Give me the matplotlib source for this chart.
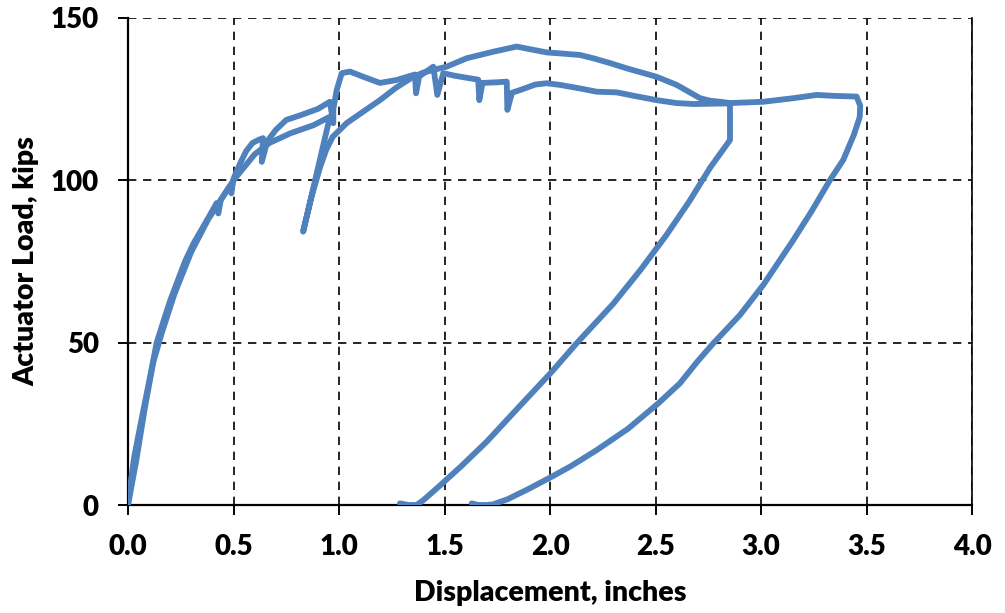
import matplotlib
matplotlib.use("Agg")
import matplotlib.pyplot as plt

# Specimen / run A (upper plateau with load drops, unloads from ~2.85 in)
disp_a = [0.0, 0.015, 0.03, 0.06, 0.10, 0.136, 0.17, 0.20, 0.235, 0.27, 0.31, 0.35, 0.39,
          0.42, 0.428, 0.44, 0.48, 0.49, 0.50, 0.53, 0.56, 0.59, 0.62, 0.64, 0.634, 0.66,
          0.70, 0.75, 0.815, 0.90, 0.957,
          0.973, 0.973, 0.989, 1.013, 1.052, 1.115, 1.194, 1.273, 1.36, 1.365, 1.38,
          1.447, 1.466, 1.494, 1.55, 1.66, 1.665, 1.68, 1.75, 1.795, 1.798, 1.82, 1.858,
          1.93, 1.984, 2.047, 2.142, 2.221, 2.316, 2.40, 2.505, 2.60, 2.68, 2.76, 2.853,
          2.853, 2.76, 2.66, 2.55, 2.43, 2.30, 2.126, 2.008, 1.85, 1.70, 1.58, 1.47,
          1.40, 1.368, 1.33, 1.289]
load_a = [0.0, 8.0, 15.0, 25.0, 38.0, 50.0, 57.0, 63.0, 69.0, 75.0, 80.5, 85.0, 89.5,
          93.0, 89.8, 94.0, 98.0, 96.0, 100.5, 105.0, 109.0, 111.5, 112.5, 113.0, 105.7, 112.0,
          115.5, 118.6, 120.0, 122.0, 124.2,
          117.6, 122.0, 127.8, 133.0, 133.5, 131.9, 130.0, 130.9, 132.6, 126.8, 132.0,
          135.0, 126.3, 133.0, 132.2, 131.0, 124.7, 130.0, 130.2, 130.4, 121.7, 127.0, 127.8,
          129.5, 129.9, 129.4, 128.3, 127.3, 127.1, 126.0, 124.7, 123.8, 123.5, 123.6, 123.7,
          112.4, 104.0, 93.5, 83.0, 72.5, 62.0, 49.8, 41.0, 30.0, 19.5, 12.0, 5.5,
          1.5, 0.0, 0.0, 0.5]

# Specimen / run B (unload-reload near 0.9 in, peak ~141 kips, unloads from ~3.45 in)
disp_b = [0.0, 0.04, 0.08, 0.12, 0.16, 0.22, 0.30, 0.38, 0.45, 0.50, 0.60, 0.67,
          0.77, 0.88, 0.957, 0.83, 0.87, 0.91, 0.94, 0.97, 1.036, 1.10, 1.194, 1.27, 1.352,
          1.40, 1.447, 1.51, 1.605, 1.73, 1.842, 1.92, 1.984, 2.047, 2.142, 2.205, 2.29,
          2.363, 2.505, 2.60, 2.66, 2.711, 2.76, 2.806, 2.853, 3.011, 3.153, 3.264, 3.35,
          3.453, 3.47, 3.468, 3.44, 3.39, 3.327, 3.24, 3.153, 3.08, 3.011, 2.90, 2.774,
          2.70, 2.616, 2.513, 2.37, 2.221, 2.10, 2.008, 1.90, 1.80, 1.73, 1.70, 1.66, 1.629]
load_b = [0.0, 14.0, 30.0, 44.0, 53.0, 65.0, 78.0, 88.0, 95.0, 100.0, 108.0, 111.5,
          114.5, 117.0, 119.6, 84.2, 95.0, 104.0, 109.5, 113.4, 117.6, 120.5, 124.7, 128.5, 131.9,
          133.2, 134.0, 135.0, 137.6, 139.6, 141.2, 140.2, 139.4, 139.1, 138.6, 137.6, 136.0,
          134.5, 131.9, 129.4, 127.2, 125.3, 124.5, 124.2, 123.8, 124.2, 125.3, 126.3, 126.0,
          125.8, 123.0, 119.5, 114.0, 106.3, 100.1, 90.5, 81.6, 74.5, 67.8, 58.5, 49.8,
          44.3, 37.5, 31.3, 23.5, 16.9, 12.0, 8.7, 5.0, 1.8, 0.2, 0.0, 0.0, 0.5]

x_ticks = [0.0, 0.5, 1.0, 1.5, 2.0, 2.5, 3.0, 3.5, 4.0]
y_ticks = [0, 50, 100, 150]
x_label = "Displacement, inches"
y_label = "Actuator Load, kips"

line_color = "#4F81BD"

plt.rcParams['font.family'] = ['Lato', 'DejaVu Sans']
fig = plt.figure(figsize=(10.05, 6.13), dpi=100)
ax = fig.add_axes([128/1005, 1 - 505/613, (972-128)/1005, (505-18)/613])

for xs, ys in ((disp_a, load_a), (disp_b, load_b)):
    ax.plot(xs, ys, color=line_color, lw=4.2, solid_joinstyle='round',
            solid_capstyle='round', zorder=3)

ax.set_xlim(0, 4.0)
ax.set_ylim(0, 150)
ax.set_xticks(x_ticks)
ax.set_yticks(y_ticks)
ax.set_xticklabels([f"{v:.1f}" for v in x_ticks])
ax.set_yticklabels([str(v) for v in y_ticks])

ax.grid(True, color='black', linestyle=(0, (5, 4)), linewidth=1.2, zorder=1)
ax.set_axisbelow(True)

for s in ('left', 'bottom'):
    ax.spines[s].set_linewidth(1.6)
    ax.spines[s].set_color('black')
ax.spines['top'].set_visible(False)
ax.spines['right'].set_linewidth(1.2)

ax.tick_params(axis='both', direction='out', length=7, width=1.4,
               labelsize=20)
ax.tick_params(axis='x', pad=14)
ax.tick_params(axis='y', pad=14)
for lab in ax.get_xticklabels() + ax.get_yticklabels():
    lab.set_fontweight('heavy')

ax.set_xlabel(x_label, fontsize=20.5, fontweight='heavy', labelpad=14)
ax.set_ylabel(y_label, fontsize=20.5, fontweight='heavy', labelpad=8)

fig.savefig("out.png", dpi=100)
